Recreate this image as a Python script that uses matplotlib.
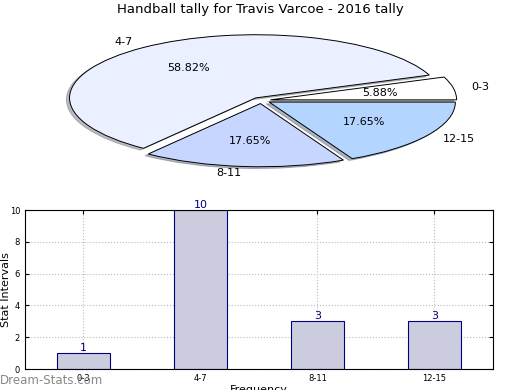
import matplotlib
matplotlib.use('Agg')
import matplotlib.pyplot as plt
import numpy as np

# data
intervals = ['0-3', '4-7', '8-11', '12-15']
counts = [1, 10, 3, 3]
pie_colors = ['#ffffff', '#eaf0ff', '#c6d6ff', '#b3d5ff']

fig = plt.figure(figsize=(5.2, 3.9), dpi=100)

# --- pie (squashed, not equal aspect) ---
ax1 = fig.add_axes([0.055, 0.54, 0.895, 0.405])
wedges, texts, autotexts = ax1.pie(counts, labels=intervals, colors=pie_colors,
                                   explode=[0.05] * 4, autopct='%1.2f%%',
                                   startangle=0,
                                   shadow={'ox': -0.012, 'oy': -0.02, 'shade': 0.5},
                                   wedgeprops={'edgecolor': 'black', 'linewidth': 0.7},
                                   textprops={'fontsize': 8})
ax1.set_aspect('auto')
ax1.set_xlim(-1.25, 1.25)
ax1.set_ylim(-1.25, 1.25)

fig.text(0.5, 1 - 10 / 390, 'Handball tally for Travis Varcoe - 2016 tally',
         ha='center', va='center', fontsize=9.5)

# --- bar chart ---
ax2 = fig.add_axes([0.048, 0.0538, 0.9, 0.4077])
x = np.arange(len(intervals))
rects = ax2.bar(x, counts, 0.45, color='#ccccdf', edgecolor='navy', linewidth=0.8)
ax2.set_xlim(-0.5, 3.5)
ax2.set_ylim(0, 10)
ax2.set_yticks([0, 2, 4, 6, 8, 10])
ax2.set_xticks(x)
ax2.set_xticklabels(intervals)
ax2.tick_params(labelsize=6, direction='in', right=True, top=True, length=3)
ax2.grid(True, color='#bbbbbb', linestyle=':', linewidth=0.8)
ax2.set_axisbelow(True)
ax2.set_ylabel('Stat Intervals', fontsize=8)
ax2.yaxis.set_label_coords(-0.029, 0.5)
ax2.set_xlabel('Frequency', fontsize=8)
ax2.xaxis.set_label_coords(0.5, -0.1)
ax2.xaxis.label.set_va('top')

for rect in rects:
    h = rect.get_height()
    ax2.text(rect.get_x() + rect.get_width() / 2, h, str(int(h)),
             ha='center', va='bottom', color='navy', fontsize=8)

fig.text(0.0, 0.025, 'Dream-Stats.com', fontsize=8.5, color='#888888',
         ha='left', va='center')

fig.savefig('out.png', dpi=100)
